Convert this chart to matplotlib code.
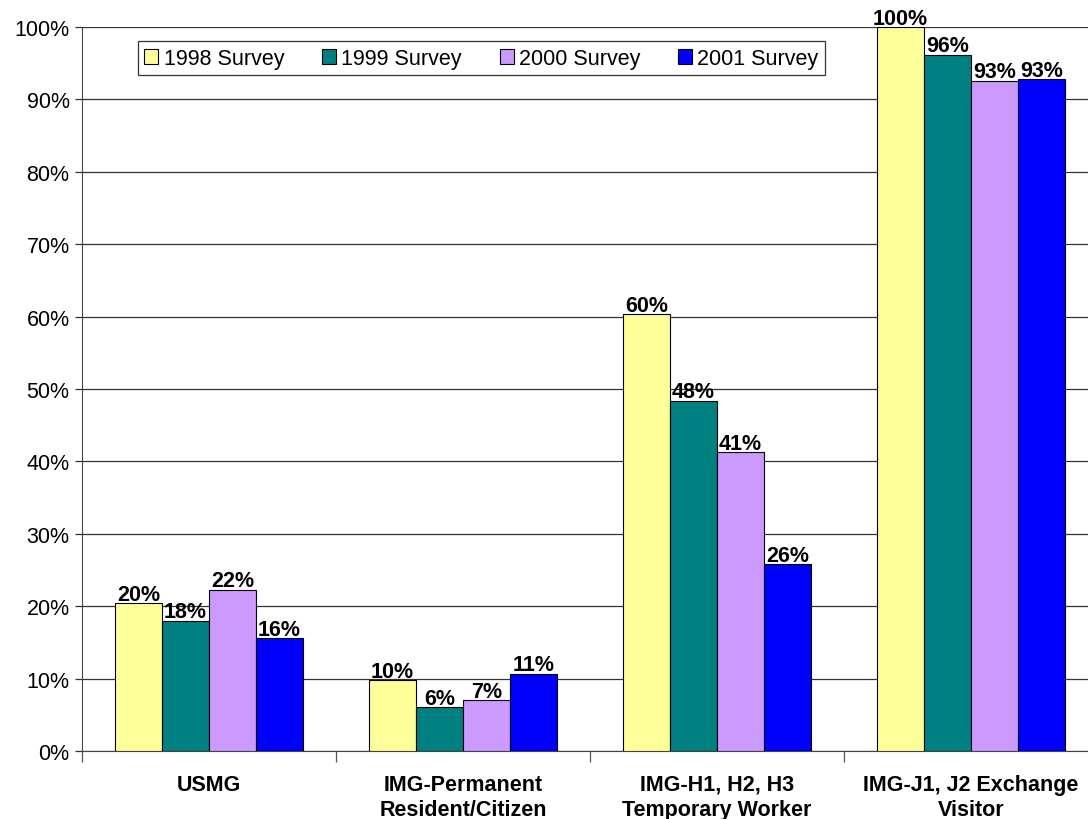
import matplotlib
matplotlib.use("Agg")
import matplotlib.pyplot as plt
import numpy as np

plt.rcParams["font.family"] = ["Liberation Sans", "DejaVu Sans"]

categories = ["USMG", "IMG-Permanent\nResident/Citizen",
              "IMG-H1, H2, H3\nTemporary Worker", "IMG-J1, J2 Exchange\nVisitor"]
series_names = ["1998 Survey", "1999 Survey", "2000 Survey", "2001 Survey"]
values_1998 = [20.4, 9.8, 60.3, 100.0]
values_1999 = [18.0, 6.1, 48.4, 96.2]
values_2000 = [22.3, 7.0, 41.3, 92.6]
values_2001 = [15.6, 10.7, 25.8, 92.8]
colors = ["#FFFF99", "#008080", "#CC99FF", "#0000FF"]
y_ticks = list(range(0, 101, 10))

series = [values_1998, values_1999, values_2000, values_2001]

fig = plt.figure(figsize=(10.88, 8.2), dpi=100)
ax = fig.add_axes([82 / 1088, 68 / 820, 1016 / 1088, 724 / 820])

n = len(categories)
x = np.arange(n)
bar_w = 0.185
offsets = (np.arange(4) - 1.5) * bar_w

for vals, name, col, off in zip(series, series_names, colors, offsets):
    bars = ax.bar(x + off, vals, width=bar_w, color=col, edgecolor="black",
                  linewidth=0.8, label=name, zorder=3)
    for b, v in zip(bars, vals):
        ax.annotate(f"{v:.0f}%", (b.get_x() + b.get_width() / 2, v),
                    xytext=(0, -1.2), textcoords="offset points",
                    ha="center", va="bottom", fontsize=15.5,
                    fontweight="bold", zorder=4)

ax.set_xlim(-0.5, n - 0.5)
ax.set_ylim(0, 100)
ax.set_yticks(y_ticks)
ax.set_yticklabels([f"{t}%" for t in y_ticks], fontsize=15.5)
ax.yaxis.grid(True, color="#333333", linewidth=0.9, zorder=0)
ax.set_axisbelow(True)

ax.set_xticks(x)
ax.set_xticklabels(categories, fontsize=15.5, fontweight="bold",
                   linespacing=1.25)
ax.tick_params(axis="x", which="major", length=0, pad=16.5)
ax.set_xticks(np.arange(n + 1) - 0.5, minor=True)
ax.tick_params(axis="x", which="minor", length=8, width=0.9, color="#555555")
ax.tick_params(axis="y", length=5, width=0.9, color="#333333", pad=4)

for s in ["top", "right"]:
    ax.spines[s].set_visible(False)
ax.spines["left"].set_color("#444444")
ax.spines["bottom"].set_color("#444444")

leg = ax.legend(loc="upper left", bbox_to_anchor=(56 / 1016, 0.98), ncol=4,
                fontsize=15.5, frameon=True, fancybox=False,
                handlelength=0.65, handleheight=0.65, handletextpad=0.25,
                columnspacing=1.75, borderpad=0.3, borderaxespad=0)
leg.get_frame().set_edgecolor("black")
leg.get_frame().set_linewidth(0.9)

fig.savefig("out.png", dpi=100)
